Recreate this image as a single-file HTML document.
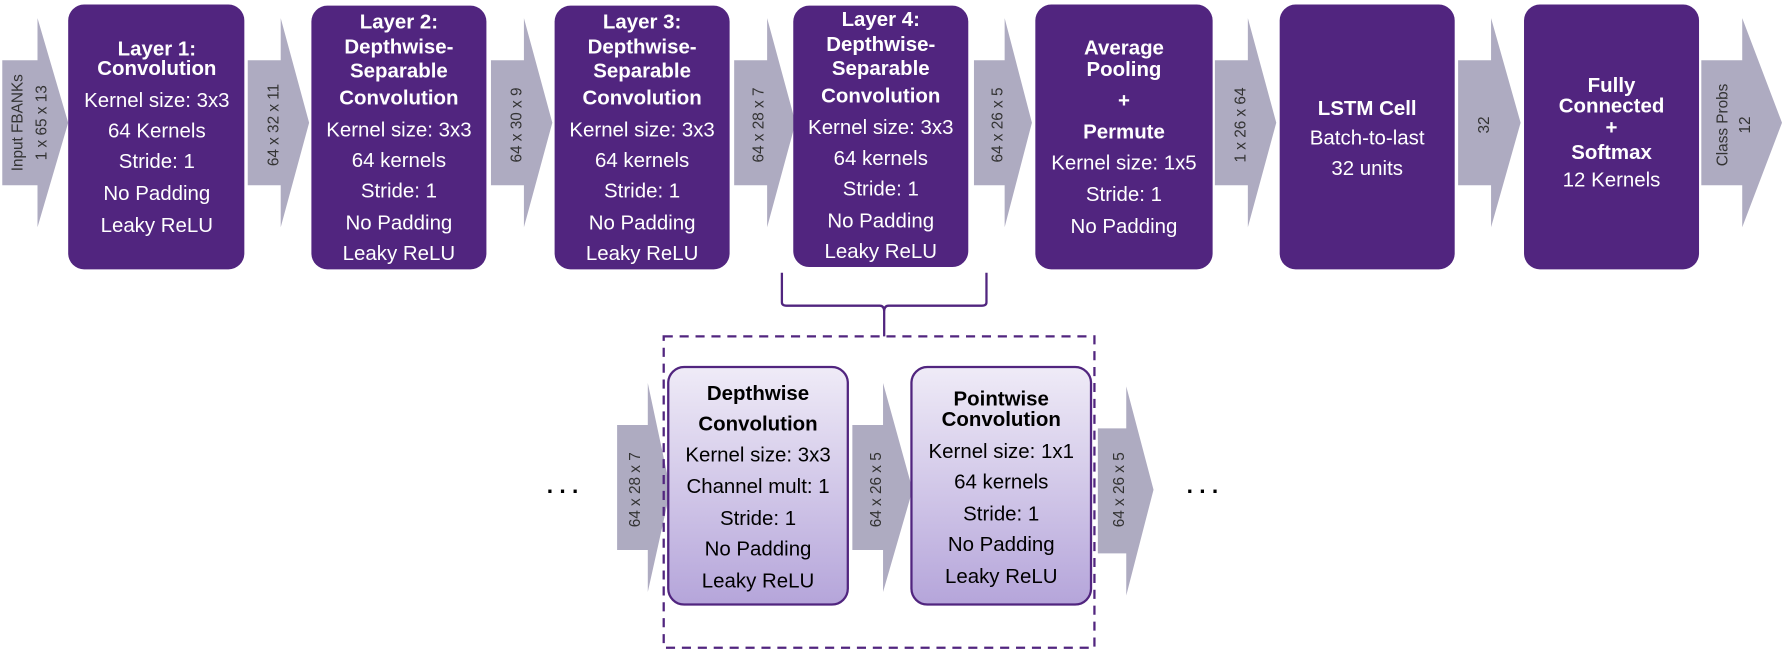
<!DOCTYPE html>
<html><head><meta charset="utf-8"><style>
html,body{margin:0;padding:0;background:#fff;width:1782px;height:650px;overflow:hidden}
svg{display:block}
.w{fill:#fff;font-family:"Liberation Sans",sans-serif;font-size:18px;text-anchor:middle}
.b{font-weight:bold}
.k{fill:#000;font-family:"Liberation Sans",sans-serif;font-size:18px;text-anchor:middle}
.l{fill:#333;font-family:"Liberation Sans",sans-serif;font-size:13.5px;text-anchor:middle}
</style></head><body>
<svg width="1782" height="650" viewBox="0 0 1568 572" preserveAspectRatio="none">
<defs>
<linearGradient id="g" x1="0" y1="0" x2="0" y2="1"><stop offset="0" stop-color="#efebf7"/><stop offset="1" stop-color="#b5a5da"/></linearGradient>
</defs>
<g fill="#aeabc1">
<polygon points="2,53 33,53 33,16 60,108 33,200 33,163 2,163"/>
<polygon points="218,53 247,53 247,16 272,108 247,200 247,163 218,163"/>
<polygon points="432,53 461,53 461,16 486,108 461,200 461,163 432,163"/>
<polygon points="646,53 675,53 675,16 700,108 675,200 675,163 646,163"/>
<polygon points="857,53 884,53 884,16 908,108 884,200 884,163 857,163"/>
<polygon points="1069,53 1098,53 1098,16 1123,108 1098,200 1098,163 1069,163"/>
<polygon points="1283,53 1312,53 1312,16 1338,108 1312,200 1312,163 1283,163"/>
<polygon points="1497,53 1533,53 1533,16 1568,108 1533,200 1533,163 1497,163"/>
<polygon points="543,374 570,374 570,337 590,431 570,521 570,484 543,484"/>
<polygon points="750,374 777,374 777,337 803,431 777,521 777,484 750,484"/>
<polygon points="966,377 991,377 991,340 1015,431 991,524 991,487 966,487"/>
</g>
<g fill="#51257f">
<rect x="60" y="4" width="155" height="233" rx="14"/>
<rect x="274" y="5" width="154" height="232" rx="14"/>
<rect x="488" y="5" width="154" height="232" rx="14"/>
<rect x="698" y="5" width="154" height="230" rx="14"/>
<rect x="911" y="4" width="156" height="233" rx="14"/>
<rect x="1126" y="4" width="154" height="233" rx="14"/>
<rect x="1341" y="4" width="154" height="233" rx="14"/>
</g>
<g class="l">
<text transform="translate(20,108) rotate(-90)">Input FBANKs</text>
<text transform="translate(41,108) rotate(-90)">1 x 65 x 13</text>
<text transform="translate(245,110) rotate(-90)">64 x 32 x 11</text>
<text transform="translate(459,110) rotate(-90)">64 x 30 x 9</text>
<text transform="translate(672,110) rotate(-90)">64 x 28 x 7</text>
<text transform="translate(882,110) rotate(-90)">64 x 26 x 5</text>
<text transform="translate(1096,110) rotate(-90)">1 x 26 x 64</text>
<text transform="translate(1310,110) rotate(-90)">32</text>
<text transform="translate(1520,110) rotate(-90)">Class Probs</text>
<text transform="translate(1540,110) rotate(-90)">12</text>
<text transform="translate(563,431) rotate(-90)">64 x 28 x 7</text>
<text transform="translate(775,431) rotate(-90)">64 x 26 x 5</text>
<text transform="translate(989,431) rotate(-90)">64 x 26 x 5</text>
</g>
<g class="w">
<text class="b" x="138" y="49">Layer 1:</text><text class="b" x="138" y="66">Convolution</text>
<text x="138" y="94">Kernel size: 3x3</text><text x="138" y="121">64 Kernels</text><text x="138" y="148">Stride: 1</text><text x="138" y="176">No Padding</text><text x="138" y="204">Leaky ReLU</text>

<text class="b" x="351" y="25">Layer 2:</text><text class="b" x="351" y="47">Depthwise-</text><text class="b" x="351" y="68">Separable</text><text class="b" x="351" y="92">Convolution</text>
<text x="351" y="120">Kernel size: 3x3</text><text x="351" y="147">64 kernels</text><text x="351" y="174">Stride: 1</text><text x="351" y="202">No Padding</text><text x="351" y="229">Leaky ReLU</text>

<text class="b" x="565" y="25">Layer 3:</text><text class="b" x="565" y="47">Depthwise-</text><text class="b" x="565" y="68">Separable</text><text class="b" x="565" y="92">Convolution</text>
<text x="565" y="120">Kernel size: 3x3</text><text x="565" y="147">64 kernels</text><text x="565" y="174">Stride: 1</text><text x="565" y="202">No Padding</text><text x="565" y="229">Leaky ReLU</text>

<text class="b" x="775" y="23">Layer 4:</text><text class="b" x="775" y="45">Depthwise-</text><text class="b" x="775" y="66">Separable</text><text class="b" x="775" y="90">Convolution</text>
<text x="775" y="118">Kernel size: 3x3</text><text x="775" y="145">64 kernels</text><text x="775" y="172">Stride: 1</text><text x="775" y="200">No Padding</text><text x="775" y="227">Leaky ReLU</text>

<text class="b" x="989" y="48">Average</text><text class="b" x="989" y="67">Pooling</text><text class="b" x="989" y="94">+</text><text class="b" x="989" y="122">Permute</text>
<text x="989" y="149">Kernel size: 1x5</text><text x="989" y="177">Stride: 1</text><text x="989" y="205">No Padding</text>

<text class="b" x="1203" y="101">LSTM Cell</text><text x="1203" y="127">Batch-to-last</text><text x="1203" y="154">32 units</text>

<text class="b" x="1418" y="81">Fully</text><text class="b" x="1418" y="99">Connected</text><text class="b" x="1418" y="118">+</text><text class="b" x="1418" y="140">Softmax</text><text x="1418" y="164">12 Kernels</text>
</g>
<path d="M688,240 V266 Q688,269 692,269 H774 Q778,269 778,274 V296 M778,274 Q778,269 782,269 H864 Q868,269 868,266 V240" fill="none" stroke="#51257f" stroke-width="2"/>
<rect x="584" y="296" width="379" height="274" fill="none" stroke="#51257f" stroke-width="2" stroke-dasharray="8,6"/>
<rect x="588" y="323" width="158" height="209" rx="14" fill="url(#g)" stroke="#51257f" stroke-width="2"/>
<rect x="802" y="323" width="158" height="209" rx="14" fill="url(#g)" stroke="#51257f" stroke-width="2"/>
<g class="k">
<text class="b" x="667" y="352">Depthwise</text><text class="b" x="667" y="379">Convolution</text>
<text x="667" y="406">Kernel size: 3x3</text><text x="667" y="434">Channel mult: 1</text><text x="667" y="462">Stride: 1</text><text x="667" y="489">No Padding</text><text x="667" y="517">Leaky ReLU</text>
<text class="b" x="881" y="357">Pointwise</text><text class="b" x="881" y="375">Convolution</text>
<text x="881" y="403">Kernel size: 1x1</text><text x="881" y="430">64 kernels</text><text x="881" y="458">Stride: 1</text><text x="881" y="485">No Padding</text><text x="881" y="513">Leaky ReLU</text>
<text x="495" y="434" style="font-size:20px;font-weight:bold">. . .</text>
<text x="1058" y="434" style="font-size:20px;font-weight:bold">. . .</text>
</g>
</svg>
</body></html>
